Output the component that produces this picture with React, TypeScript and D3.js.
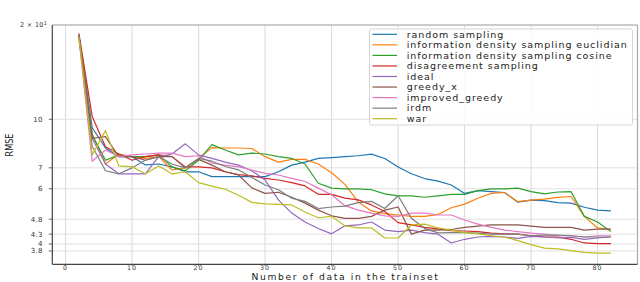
import React, { useEffect, useRef } from 'react';
import * as d3 from 'd3';

// number of data in the trainset
const trainSize = [2, 4, 6, 8, 10, 12, 14, 16, 18, 20, 22, 24, 26, 28, 30, 32, 34, 36, 38, 40, 42,
  44, 46, 48, 50, 52, 54, 56, 58, 60, 62, 64, 66, 68, 70, 72, 74, 76, 78, 80, 82];

const randomSampling = [18.5, 9.4, 8.1, 7.6, 7.6, 7.15, 7.2, 7.05, 6.8, 6.8, 6.56, 6.56, 6.56, 6.56, 6.56, 6.8, 7.14, 7.3, 7.5, 7.55, 7.6,
  7.65, 7.74, 7.5, 7.04, 6.7, 6.47, 6.35, 6.17, 5.8, 5.92, 5.88, 5.84, 5.44, 5.52, 5.5, 5.42, 5.4, 5.24, 5.13, 5.1];
const idsEuclidian = [18.5, 9.0, 7.2, 7.75, 7.6, 7.5, 7.6, 6.89, 7.0, 7.5, 8.12, 8.1, 8.1, 8.07, 7.6, 7.3, 7.45, 7.45, 7.2, 6.75, 6.2,
  5.45, 5.1, 5.0, 4.95, 4.9, 4.9, 4.97, 5.22, 5.36, 5.6, 5.8, 5.84, 5.46, 5.52, 5.56, 5.63, 5.67, 4.9, 4.5, 4.45];
const idsCosine = [18.5, 8.9, 7.4, 7.7, 7.6, 7.6, 7.7, 7.05, 6.85, 7.4, 8.3, 7.98, 7.7, 7.8, 7.75, 7.6, 7.5, 7.2, 6.25, 6.03, 6.0,
  6.0, 5.96, 5.78, 5.7, 5.7, 5.64, 5.7, 5.76, 5.76, 5.92, 6.0, 6.0, 6.03, 5.88, 5.78, 5.86, 5.88, 4.9, 4.7, 4.38];
const disagreement = [18.8, 10.2, 8.17, 7.75, 7.4, 7.6, 7.7, 7.6, 7.05, 7.05, 7.0, 6.8, 6.66, 6.6, 6.48, 6.4, 6.28, 6.13, 5.76, 5.76, 5.6,
  5.53, 5.33, 5.08, 4.68, 4.6, 4.52, 4.47, 4.41, 4.4, 4.38, 4.33, 4.31, 4.3, 4.25, 4.21, 4.21, 4.14, 4.03, 4.01, 4.01];
const ideal = [18.3, 8.7, 7.2, 6.7, 6.7, 6.7, 7.6, 7.75, 8.35, 7.7, 7.5, 7.3, 7.14, 6.85, 6.4, 5.53, 5.02, 4.7, 4.48, 4.31, 4.57,
  4.6, 4.7, 4.43, 4.38, 4.43, 4.35, 4.3, 4.03, 4.14, 4.21, 4.23, 4.21, 4.17, 4.23, 4.21, 4.18, 4.2, 4.14, 4.18, 4.21];
const greedyX = [18.5, 8.7, 8.8, 7.6, 7.6, 7.4, 7.6, 7.6, 7.0, 7.45, 7.14, 6.8, 6.64, 6.04, 5.8, 5.85, 5.64, 5.4, 5.13, 4.92, 4.83,
  4.83, 4.9, 5.13, 5.25, 4.3, 4.43, 4.43, 4.45, 4.52, 4.56, 4.6, 4.6, 4.6, 4.56, 4.52, 4.52, 4.52, 4.43, 4.46, 4.46];
const improvedGreedy = [18.2, 7.35, 7.98, 7.6, 7.7, 7.75, 7.8, 7.8, 7.6, 7.65, 7.25, 7.14, 7.05, 6.89, 6.72, 6.64, 6.48, 6.33, 6.03, 5.74, 5.3,
  5.13, 5.02, 4.92, 4.9, 5.02, 5.02, 4.95, 4.95, 4.77, 4.63, 4.52, 4.43, 4.38, 4.33, 4.3, 4.25, 4.25, 4.21, 4.25, 4.25];
const irdm = [18.5, 8.2, 6.85, 6.7, 7.0, 7.4, 7.6, 7.2, 7.0, 7.5, 7.35, 7.07, 6.9, 6.52, 6.17, 5.96, 5.6, 5.47, 5.19, 5.25, 5.28,
  5.42, 5.47, 5.19, 5.7, 4.83, 4.48, 4.34, 4.35, 4.35, 4.33, 4.3, 4.3, 4.3, 4.25, 4.27, 4.27, 4.25, 4.21, 4.21, 4.21];
const war = [18.3, 7.7, 9.2, 7.1, 7.05, 6.7, 7.1, 6.7, 6.8, 6.28, 6.12, 5.98, 5.72, 5.43, 5.37, 5.35, 5.33, 5.06, 4.85, 4.9, 4.57,
  4.5, 4.5, 4.18, 4.18, 4.6, 4.63, 4.5, 4.43, 4.35, 4.31, 4.25, 4.21, 4.1, 3.98, 3.88, 3.86, 3.81, 3.76, 3.74, 3.74];

const seriesNames = ['random sampling', 'information density sampling euclidian', 'information density sampling cosine',
  'disagreement sampling', 'ideal', 'greedy_x', 'improved_greedy', 'irdm', 'war'];
const seriesValues = [randomSampling, idsEuclidian, idsCosine, disagreement, ideal, greedyX, improvedGreedy, irdm, war];
const seriesColors = ['#1f77b4', '#ff7f0e', '#2ca02c', '#d62728', '#9467bd', '#8c564b', '#e377c2', '#7f7f7f', '#bcbd22'];

const xTicks = [0, 10, 20, 30, 40, 50, 60, 70, 80];
const yTicks = [10, 7, 6, 4.8, 4.3, 4, 3.8];
const yTickLabels = ['10', '7', '6', '4.8', '4.3', '4', '3.8'];

export default function App() {
  const svgRef = useRef(null);
  const width = 640;
  const height = 282;

  useEffect(() => {
    const svg = d3.select(svgRef.current);
    svg.selectAll('*').remove();

    const left = 52.3, right = 637.5, top = 25, bottom = 264.3;
    const x = d3.scaleLinear().domain([-2, 86]).range([left, right]);
    const y = d3.scaleLog().domain([3.445, 20]).range([bottom, top]);

    // grid
    const grid = svg.append('g');
    grid.selectAll('line.vx')
      .data(xTicks)
      .enter()
      .append('line')
      .attr('x1', (d) => x(d)).attr('x2', (d) => x(d))
      .attr('y1', top).attr('y2', bottom)
      .attr('stroke', '#d9d9d9').attr('stroke-width', 1);
    grid.selectAll('line.hy')
      .data([20, ...yTicks])
      .enter()
      .append('line')
      .attr('x1', left).attr('x2', right)
      .attr('y1', (d) => y(d)).attr('y2', (d) => y(d))
      .attr('stroke', '#e0e0e0').attr('stroke-width', 1);

    // lines, in plotting order
    const line = d3.line<number>()
      .x((_, i) => x(trainSize[i]))
      .y((d) => y(d));
    svg.append('g')
      .selectAll('path')
      .data(seriesValues)
      .enter()
      .append('path')
      .attr('d', (d) => line(d))
      .attr('fill', 'none')
      .attr('stroke', (_, i) => seriesColors[i])
      .attr('stroke-width', 1.2)
      .attr('stroke-linejoin', 'round');

    // frame
    svg.append('line').attr('x1', left).attr('x2', right).attr('y1', top).attr('y2', top)
      .attr('stroke', '#a8a8a8').attr('stroke-width', 1.2);
    svg.append('line').attr('x1', right).attr('x2', right).attr('y1', top).attr('y2', bottom)
      .attr('stroke', '#a8a8a8').attr('stroke-width', 1.2);
    svg.append('line').attr('x1', left).attr('x2', left).attr('y1', top).attr('y2', bottom)
      .attr('stroke', '#444').attr('stroke-width', 1.2);
    svg.append('line').attr('x1', left).attr('x2', right).attr('y1', bottom).attr('y2', bottom)
      .attr('stroke', '#444').attr('stroke-width', 1.2);

    // y ticks
    const yAxis = svg.append('g').attr('font-family', 'DejaVu Sans').attr('font-size', 7).attr('fill', '#333');
    yTicks.forEach((t, i) => {
      yAxis.append('line').attr('x1', left - 3.5).attr('x2', left).attr('y1', y(t)).attr('y2', y(t))
        .attr('stroke', '#444').attr('stroke-width', 0.8);
      yAxis.append('text').attr('x', left - 9.5).attr('y', y(t)).attr('dy', '0.35em')
        .attr('text-anchor', 'end').attr('letter-spacing', 0.3).text(yTickLabels[i]);
    });
    const topLabel = yAxis.append('text').attr('x', left - 5).attr('y', y(20)).attr('dy', '0.3em')
      .attr('text-anchor', 'end').attr('font-size', 6.5).attr('letter-spacing', 0.3);
    topLabel.append('tspan').text('2 × 10');
    topLabel.append('tspan').attr('dy', '-0.45em').attr('font-size', 5).text('1');

    // x ticks
    const xAxis = svg.append('g').attr('font-family', 'DejaVu Sans').attr('font-size', 6.3).attr('fill', '#333');
    xTicks.forEach((t) => {
      xAxis.append('line').attr('x1', x(t)).attr('x2', x(t)).attr('y1', bottom).attr('y2', bottom + 1.8)
        .attr('stroke', '#444').attr('stroke-width', 0.8);
      xAxis.append('text').attr('x', x(t)).attr('y', 270.2)
        .attr('text-anchor', 'middle').attr('letter-spacing', 1.2).text(String(t));
    });

    svg.append('text').attr('x', 345.5).attr('y', 279.6)
      .attr('text-anchor', 'middle').attr('font-family', 'DejaVu Sans').attr('font-size', 9.2)
      .attr('letter-spacing', 1.6).attr('fill', '#222')
      .text('Number of data in the trainset');

    svg.append('text').attr('transform', 'translate(13,145) rotate(-90)')
      .attr('text-anchor', 'middle').attr('font-family', 'DejaVu Sans').attr('font-size', 10)
      .attr('textLength', 23).attr('lengthAdjust', 'spacingAndGlyphs').attr('fill', '#222')
      .text('RMSE');

    // legend
    const legend = svg.append('g');
    legend.append('rect').attr('x', 369.5).attr('y', 29).attr('width', 263).attr('height', 96)
      .attr('rx', 2).attr('fill', 'white').attr('fill-opacity', 0.85)
      .attr('stroke', '#d6d6d6').attr('stroke-width', 1);
    seriesNames.forEach((name, i) => {
      const ly = 34.3 + i * 10.55;
      legend.append('line').attr('x1', 372.5).attr('x2', 397).attr('y1', ly).attr('y2', ly)
        .attr('stroke', seriesColors[i]).attr('stroke-width', 1.2);
      legend.append('text').attr('x', 406.7).attr('y', ly).attr('dy', '0.35em')
        .attr('font-family', 'DejaVu Sans').attr('font-size', 9.5).attr('letter-spacing', 0.95)
        .attr('fill', '#222').text(name);
    });
  }, []);

  return (
    <div style={{ position: 'absolute', left: 0, top: 0 }}>
      <svg ref={svgRef} width={width} height={height} style={{ display: 'block', background: 'white' }} />
    </div>
  );
}
